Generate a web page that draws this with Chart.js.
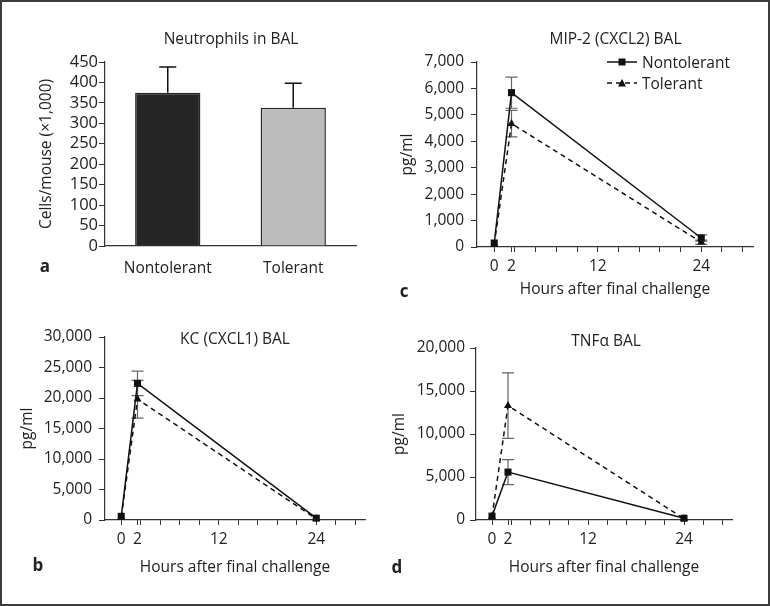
<!DOCTYPE html>
<html>
<head>
<meta charset="utf-8">
<script src="https://cdn.jsdelivr.net/npm/chart.js@4.4.0/dist/chart.umd.min.js"></script>
<style>
  html, body { margin: 0; padding: 0; background: #fff; }
  #figure { position: relative; width: 770px; height: 606px; overflow: hidden; font-family: "Open Sans", sans-serif; color: #222; }
  #figure canvas { position: absolute; }
  .frame { position: absolute; left: 0; top: 0; width: 770px; height: 606px; box-sizing: border-box; border: 2px solid #3c3c3c; pointer-events: none; }
  .txt { position: absolute; font-size: 15.5px; line-height: 18.6px; white-space: nowrap; transform: translate(-50%, -50%); }
  .letter { position: absolute; font-size: 17px; line-height: 20px; font-weight: bold; transform: translateX(-50%); }
  .legend-row { position: absolute; left: 607px; height: 20px; display: flex; align-items: center; font-size: 15.5px; white-space: nowrap; }
  .legend-row svg { margin-right: 5px; }
</style>
</head>
<body>
<div id="figure">
  <canvas id="panelA" width="385" height="303" style="left:0;top:0"></canvas>
  <canvas id="panelC" width="385" height="303" style="left:385px;top:0"></canvas>
  <canvas id="panelB" width="385" height="303" style="left:0;top:303px"></canvas>
  <canvas id="panelD" width="385" height="303" style="left:385px;top:303px"></canvas>

  <div class="txt" style="left:231px;top:37.5px">Neutrophils in BAL</div>
  <div class="txt" style="left:615.5px;top:37.5px">MIP-2 (CXCL2) BAL</div>
  <div class="txt" style="left:235px;top:338px">KC (CXCL1) BAL</div>
  <div class="txt" style="left:606px;top:340px">TNFα BAL</div>

  <div class="letter" style="left:45px;top:256px">a</div>
  <div class="letter" style="left:404px;top:281px">c</div>
  <div class="letter" style="left:38px;top:555px">b</div>
  <div class="letter" style="left:397px;top:557px">d</div>

  <div class="legend-row" style="top:52px">
    <svg width="30" height="10"><line x1="0" y1="5" x2="30" y2="5" stroke="#111" stroke-width="1.5"/><rect x="11.5" y="1.5" width="7" height="7" fill="#111"/></svg>
    <span>Nontolerant</span>
  </div>
  <div class="legend-row" style="top:73px">
    <svg width="30" height="10"><line x1="0" y1="5" x2="30" y2="5" stroke="#111" stroke-width="1.5" stroke-dasharray="5,4"/><polygon points="15,1 19,8.5 11,8.5" fill="#111"/></svg>
    <span>Tolerant</span>
  </div>
  <div class="frame"></div>
</div>

<script>
// panel a: neutrophils in BAL
const groups = ['Nontolerant', 'Tolerant'];
const neutrophilMeans = [375, 338];
const neutrophilErrors = [63, 60];

// panels b-d: hours after final challenge
const hours = [0, 2, 24];
const hourLabels = [0, 2, 12, 24];
const hourMinorTicks = [2.4, 4.8, 7.2, 9.6, 14.4, 16.8, 19.2, 21.6, 26.4, 28.8];

const mipNontolerant = [150, 5840, 340];
const mipNontolerantErr = [0, 590, 120];
const mipTolerant = [100, 4670, 180];
const mipTolerantErr = [0, 500, 80];

const kcNontolerant = [600, 22400, 300];
const kcNontolerantErr = [0, 2000, 0];
const kcTolerant = [500, 19800, 200];
const kcTolerantErr = [0, 3100, 0];

const tnfNontolerant = [450, 5570, 200];
const tnfNontolerantErr = [0, 1450, 0];
const tnfTolerant = [400, 13300, 150];
const tnfTolerantErr = [0, 3800, 0];

const W = 385, H = 303;
const font = { family: 'Open Sans', size: 15.5, lineHeight: 1.2 };
const bigTickFont = { family: 'Open Sans', size: 16.5, lineHeight: 1.2 };
const ink = '#222';

// draws error bars from each dataset's "errors" array
const errorBars = {
    id: 'errorBars',
    beforeDatasetsDraw(chart, args, opts) {
        const ctx = chart.ctx;
        const yScale = chart.scales.y;
        chart.data.datasets.forEach((ds, i) => {
            if (!ds.errors) return;
            const meta = chart.getDatasetMeta(i);
            meta.data.forEach((el, j) => {
                const err = ds.errors[j];
                if (!err) return;
                const v = meta.controller.getParsed(j).y;
                const top = yScale.getPixelForValue(v + err);
                const bottom = opts.upOnly ? el.y : yScale.getPixelForValue(v - err);
                ctx.save();
                ctx.strokeStyle = opts.color;
                ctx.lineWidth = opts.width;
                ctx.beginPath();
                ctx.moveTo(el.x, bottom);
                ctx.lineTo(el.x, top);
                ctx.moveTo(el.x - opts.cap, top);
                ctx.lineTo(el.x + opts.cap, top);
                if (!opts.upOnly) {
                    ctx.moveTo(el.x - opts.cap, bottom);
                    ctx.lineTo(el.x + opts.cap, bottom);
                }
                ctx.stroke();
                ctx.restore();
            });
        });
    }
};

document.addEventListener('DOMContentLoaded', function() {
    generateBarChart();

    generateLineChart('panelC', {
        non: mipNontolerant, nonErr: mipNontolerantErr, tol: mipTolerant, tolErr: mipTolerantErr,
        max: 7000, step: 1000,
        area: { left: 92, right: 368, top: 62, bottom: 247 },
        yTickPad: 7, yTitlePad: 13, xTitlePad: 4
    });

    generateLineChart('panelB', {
        non: kcNontolerant, nonErr: kcNontolerantErr, tol: kcTolerant, tolErr: kcTolerantErr,
        max: 30000, step: 5000,
        area: { left: 105, right: 365, top: 34, bottom: 217 },
        yTickPad: 7, yTitlePad: 18, xTitlePad: 29
    });

    generateLineChart('panelD', {
        non: tnfNontolerant, nonErr: tnfNontolerantErr, tol: tnfTolerant, tolErr: tnfTolerantErr,
        max: 20000, step: 5000,
        area: { left: 91, right: 347, top: 45, bottom: 217 },
        yTickPad: 5, yTitlePad: 5, xTitlePad: 29
    });
});

function generateBarChart() {
    new Chart(document.getElementById('panelA'), {
        type: 'bar',
        data: {
            labels: groups,
            datasets: [{
                data: neutrophilMeans,
                errors: neutrophilErrors,
                backgroundColor: ['#262626', '#bcbcbc'],
                borderColor: '#262626',
                borderWidth: 1.5,
                barPercentage: 0.52,
                categoryPercentage: 1
            }]
        },
        options: {
            responsive: false,
            animation: false,
            devicePixelRatio: 1,
            layout: { padding: { left: 0, top: 62, right: W - 356, bottom: 0 } },
            plugins: {
                legend: { display: false },
                tooltip: { enabled: false },
                errorBars: { color: '#111', width: 1.5, cap: 8.5, upOnly: true }
            },
            scales: {
                x: {
                    afterFit: s => { s.height = H - 246; },
                    grid: { display: false, drawTicks: false },
                    border: { display: true, color: '#333', width: 1.2 },
                    ticks: { padding: 13, color: ink, font: font }
                },
                y: {
                    min: 0, max: 450,
                    afterFit: s => { s.width = 105; },
                    grid: { drawOnChartArea: false, tickLength: 6, color: '#333' },
                    border: { color: '#333', width: 1.2 },
                    ticks: { stepSize: 50, autoSkip: false, padding: 1, color: ink, font: bigTickFont },
                    title: { display: true, text: 'Cells/mouse (×1,000)', color: ink, font: font, padding: { top: 37, bottom: 0 } }
                }
            }
        },
        plugins: [errorBars]
    });
}

function series(label, values, errors, pointStyle, dash) {
    return {
        label: label,
        data: hours.map((h, i) => ({ x: h, y: values[i] })),
        errors: errors,
        borderColor: '#111',
        backgroundColor: '#111',
        borderWidth: 1.5,
        borderDash: dash,
        pointStyle: pointStyle,
        pointRadius: pointStyle === 'rect' ? 5 : 4.6,
        pointBorderWidth: 0,
        tension: 0,
        clip: false
    };
}

function generateLineChart(id, cfg) {
    new Chart(document.getElementById(id), {
        type: 'line',
        data: {
            datasets: [
                series('Nontolerant', cfg.non, cfg.nonErr, 'rect', []),
                series('Tolerant', cfg.tol, cfg.tolErr, 'triangle', [5, 4])
            ]
        },
        options: {
            responsive: false,
            animation: false,
            devicePixelRatio: 1,
            locale: 'en-US',
            layout: { padding: { left: 0, top: cfg.area.top, right: W - cfg.area.right, bottom: 0 } },
            plugins: {
                legend: { display: false },
                tooltip: { enabled: false },
                errorBars: { color: '#666', width: 1.2, cap: 6, upOnly: false }
            },
            scales: {
                x: {
                    type: 'linear',
                    min: -2, max: 30,
                    afterBuildTicks: s => {
                        s.ticks = hourLabels.concat(hourMinorTicks).sort((a, b) => a - b).map(v => ({ value: v }));
                    },
                    afterFit: s => { s.height = H - cfg.area.bottom; },
                    grid: { drawOnChartArea: false, tickLength: 5, color: '#333' },
                    border: { color: '#333', width: 1.2 },
                    ticks: {
                        autoSkip: false, maxRotation: 0, padding: 5, color: ink, font: font,
                        callback: v => hourLabels.includes(v) ? String(v) : ''
                    },
                    title: { display: true, text: 'Hours after final challenge', color: ink, font: font, padding: { top: 0, bottom: cfg.xTitlePad } }
                },
                y: {
                    min: 0, max: cfg.max,
                    afterFit: s => { s.width = cfg.area.left; },
                    grid: { drawOnChartArea: false, tickLength: 6, color: '#333' },
                    border: { color: '#333', width: 1.2 },
                    ticks: { stepSize: cfg.step, autoSkip: false, padding: cfg.yTickPad, color: ink, font: font },
                    title: { display: true, text: 'pg/ml', color: ink, font: font, padding: { top: cfg.yTitlePad, bottom: 0 } }
                }
            }
        },
        plugins: [errorBars]
    });
}
</script>
</body>
</html>
